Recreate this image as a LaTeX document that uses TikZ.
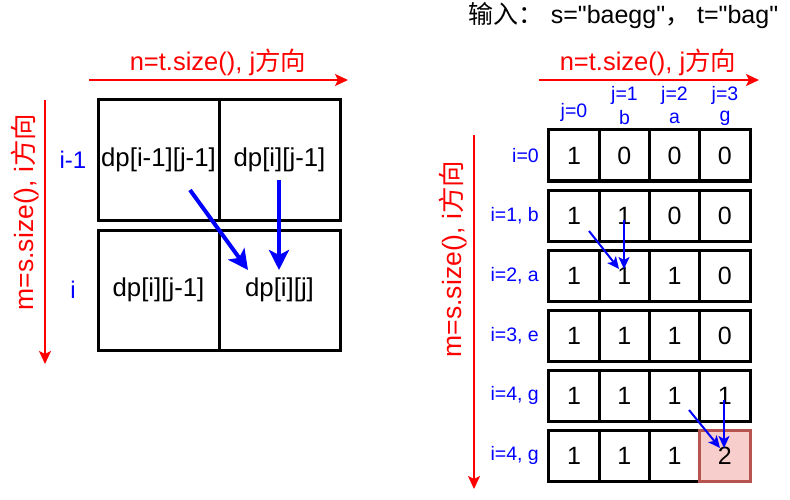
\documentclass[tikz,border=0pt]{standalone}
\usepackage{fontspec}
\setmainfont{Liberation Sans}[Ligatures=TeXOff]
\newfontfamily\cjk{Noto Sans CJK SC}
\usetikzlibrary{arrows.meta}
\definecolor{dred}{HTML}{FF0000}
\definecolor{dblue}{HTML}{0000FF}
\definecolor{pinkfill}{HTML}{F8CECC}
\definecolor{pinkline}{HTML}{B85450}
\tikzset{
  bigcell/.style={draw=black,line width=3pt,minimum width=121pt,minimum height=120pt,inner sep=0pt,font=\fontsize{25.8}{30}\selectfont},
  smallcell/.style={draw=black,line width=3pt,minimum width=50.25pt,minimum height=51pt,inner sep=0pt,font=\fontsize{25}{30}\selectfont},
  hotcell/.style={smallcell,draw=pinkline,fill=pinkfill},
  redlabel/.style={text=dred,font=\fontsize{25.5}{30}\selectfont,inner sep=0pt},
  redvlabel/.style={text=dred,font=\fontsize{26.5}{30}\selectfont,inner sep=0pt,rotate=90},
  bluebig/.style={text=dblue,font=\fontsize{24}{28}\selectfont,inner sep=0pt},
  bluesmall/.style={text=dblue,font=\fontsize{19.5}{23}\selectfont,inner sep=0pt},
  redarrow/.style={draw=dred,line width=2pt,-{Stealth[length=13pt,width=12pt,inset=3pt]}},
  thickblue/.style={draw=dblue,line width=4pt,-{Stealth[length=20pt,width=20pt,inset=5pt]}},
  thinblue/.style={draw=dblue,line width=2pt,-{Stealth[length=12pt,width=11pt,inset=3pt]}},
}
\begin{document}
\begin{tikzpicture}[x=1pt,y=-1pt]
\useasboundingbox (0,0) rectangle (790,500);
% ---------- left diagram ----------
\node[redlabel] (ltop) at (218,62) {n=t.size(), j{\cjk 方向}};
\coordinate (lha) at (89,80);
\coordinate (lhb) at (348,80);
\draw[redarrow] (lha) -- (lhb);
\node[redvlabel] (lside) at (25,212) {m=s.size(), i{\cjk 方向}};
\coordinate (lva) at (45,100);
\coordinate (lvb) at (45,364);
\draw[redarrow] (lva) -- (lvb);
\node[bigcell] (a11) at (158.5,160) {dp[i-1][j-1]};
\node[bigcell] (a12) at (279.5,160) {dp[i][j-1]};
\node[bigcell] (a21) at (158.5,290) {dp[i][j-1]};
\node[bigcell] (a22) at (279.5,290) {dp[i][j]};
\node[bluebig] (li1) at (73,160) {i-1};
\node[bluebig] (li) at (73,290) {i};
\coordinate (d1s) at (190,190);
\coordinate (d1e) at (248,270);
\coordinate (v1s) at (279,180);
\coordinate (v1e) at (279,270);
\draw[thickblue] (d1s) -- (d1e);
\draw[thickblue] (v1s) -- (v1e);
% ---------- right diagram ----------
\node[inner sep=0pt,font=\fontsize{25}{30}\selectfont] (title) at (623.5,16) {{\cjk 输入：} s="baegg"{\cjk ，} t="bag"};
\node[redlabel] (rtop) at (648,62) {n=t.size(), j{\cjk 方向}};
\coordinate (rha) at (539,80);
\coordinate (rhb) at (759,80);
\draw[redarrow] (rha) -- (rhb);
\node[redvlabel] (rside) at (453,259) {m=s.size(), i{\cjk 方向}};
\coordinate (rva) at (474,135);
\coordinate (rvb) at (474,489);
\draw[redarrow] (rva) -- (rvb);
% column headers
\node[bluesmall] (hj0) at (574,112) {j=0};
\node[bluesmall] (hj1) at (624.5,95) {j=1};
\node[bluesmall] (hb) at (624.5,118) {b};
\node[bluesmall] (hj2) at (674.5,95) {j=2};
\node[bluesmall] (ha) at (674.5,118) {a};
\node[bluesmall] (hj3) at (725,95) {j=3};
\node[bluesmall] (hg) at (725,118) {g};
% rows
\foreach \r/\lab/\va/\vb/\vc/\vd in {0/i=0/1/0/0/0, 1/{i=1, b}/1/1/0/0, 2/{i=2, a}/1/1/1/0, 3/{i=3, e}/1/1/1/0, 4/{i=4, g}/1/1/1/1}{
  \node[bluesmall,anchor=east] (rl\r) at (539,155.5+60*\r) {\lab};
  \node[smallcell] (c\r0) at (574.1,155.5+60*\r) {\va};
  \node[smallcell] (c\r1) at (624.4,155.5+60*\r) {\vb};
  \node[smallcell] (c\r2) at (674.6,155.5+60*\r) {\vc};
  \node[smallcell] (c\r3) at (724.9,155.5+60*\r) {\vd};
}
\node[bluesmall,anchor=east] (rl5) at (539,455.5) {i=4, g};
\node[smallcell] (c50) at (574.1,455.5) {1};
\node[smallcell] (c51) at (624.4,455.5) {1};
\node[smallcell] (c52) at (674.6,455.5) {1};
\node[hotcell] (c53) at (724.9,455.5) {2};
% blue arrows
\coordinate (p1s) at (589,231);
\coordinate (p1e) at (619,269);
\coordinate (q1s) at (624,220);
\coordinate (q1e) at (624,269);
\draw[thinblue] (p1s) -- (p1e);
\draw[thinblue] (q1s) -- (q1e);
\coordinate (p2s) at (689,410);
\coordinate (p2e) at (720,448);
\coordinate (q2s) at (724,400);
\coordinate (q2e) at (724,448);
\draw[thinblue] (p2s) -- (p2e);
\draw[thinblue] (q2s) -- (q2e);
\end{tikzpicture}
\end{document}
